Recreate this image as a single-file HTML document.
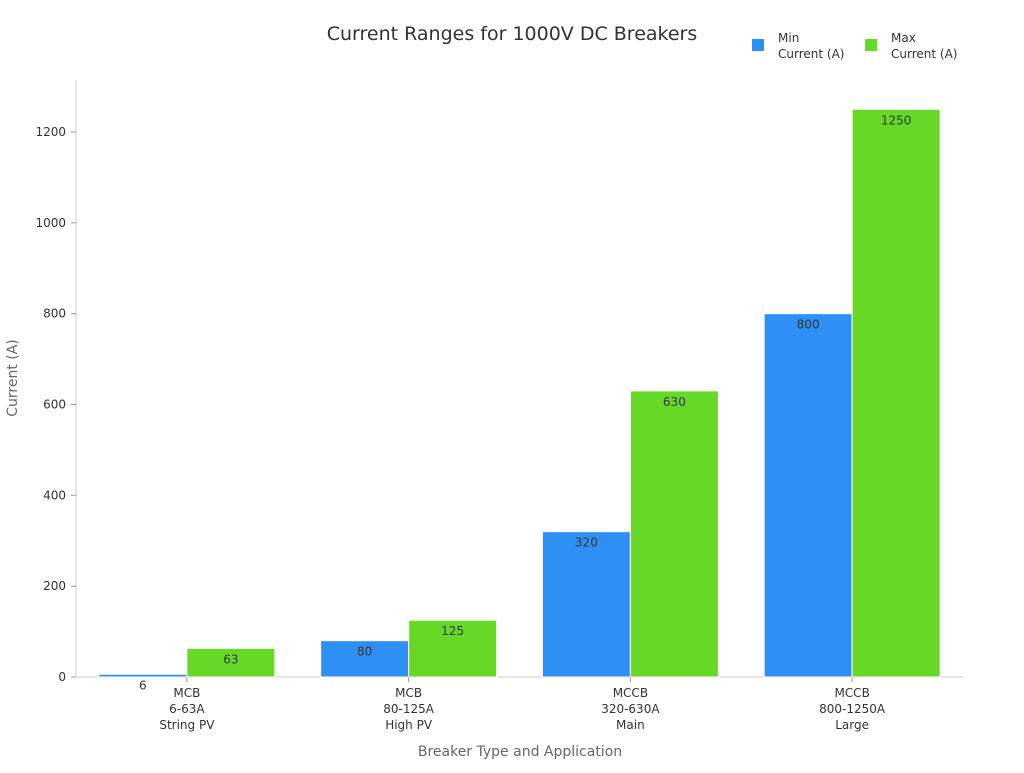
<!DOCTYPE html>
<html><head><meta charset="utf-8"><style>
body{margin:0;background:#fff;}
svg{font-family:"DejaVu Sans","Liberation Sans",sans-serif;}
</style></head><body>
<svg id="chart" width="1024" height="768">
<text x="512" y="40" text-anchor="middle" font-size="19" fill="#333">Current Ranges for 1000V DC Breakers</text>
<g>
<rect x="752" y="39" width="12" height="12" fill="#2e90f5"/>
<text x="778" y="42" font-size="12" fill="#333"><tspan x="778">Min</tspan><tspan x="778" dy="16">Current (A)</tspan></text>
<rect x="865" y="39" width="12" height="12" fill="#65d926"/>
<text x="891" y="42" font-size="12" fill="#333"><tspan x="891">Max</tspan><tspan x="891" dy="16">Current (A)</tspan></text>
</g>
<line x1="76" y1="80" x2="76" y2="677" stroke="#ccc"/>
<line x1="76" y1="677" x2="963" y2="677" stroke="#ccc"/>
<text transform="translate(17,378) rotate(-90)" text-anchor="middle" font-size="14" fill="#666">Current (A)</text>
<text x="520" y="756" text-anchor="middle" font-size="14" fill="#666">Breaker Type and Application</text>
<g id="marks"></g>
</svg>
<script>
const categories=[["MCB","6-63A","String PV"],["MCB","80-125A","High PV"],["MCCB","320-630A","Main"],["MCCB","800-1250A","Large"]];
const minValues=[6,80,320,800];
const maxValues=[63,125,630,1250];
const yTicks=[0,200,400,600,800,1000,1200];
const NS="http://www.w3.org/2000/svg";
const g=document.getElementById('marks');
const x0=76,x1=963,y0=677,y1200=132;
const yScale=v=>y0-(v/1200)*(y0-y1200);
const band=(x1-x0)/categories.length;
const xCenter=i=>x0+band*(i+0.5);
function mk(tag,attrs){const e=document.createElementNS(NS,tag);for(const k in attrs)e.setAttribute(k,attrs[k]);g.appendChild(e);return e;}
yTicks.forEach(t=>{
  const l=mk('line',{x1:x0-5,x2:x0,y1:yScale(t),y2:yScale(t),stroke:'#999'});
  
  
  const tx=mk('text',{x:x0-10,y:yScale(t)+4,'text-anchor':'end','font-size':12,fill:'#333'});
  tx.textContent=t;
  
  
});
const bw=88;
categories.forEach((c,i)=>{
  const cx=xCenter(i);
  [[minValues[i],'#2e90f5',-1,'min'],[maxValues[i],'#65d926',0,'max']].forEach(([v,col,off,nm])=>{
    const bx=cx+off*bw;
    const r=mk('rect',{x:bx,y:yScale(v),width:bw,height:y0-yScale(v),fill:col,stroke:'#fff','stroke-width':1});
    
    
    const t=mk('text',{x:bx+bw/2,y:yScale(v)+15,'text-anchor':'middle','font-size':12,fill:'#333'});
    t.textContent=v;
    
    
  });
  const tk=mk('line',{x1:cx,x2:cx,y1:y0,y2:y0+5,stroke:'#999'});
  
  
  const lab=mk('text',{x:cx,y:y0+20,'text-anchor':'middle','font-size':12,fill:'#333'});
  
  
  c.forEach((line,j)=>{const s=document.createElementNS(NS,'tspan');s.setAttribute('x',cx);if(j)s.setAttribute('dy',16);s.textContent=line;lab.appendChild(s);});
});
</script>
</body></html>
